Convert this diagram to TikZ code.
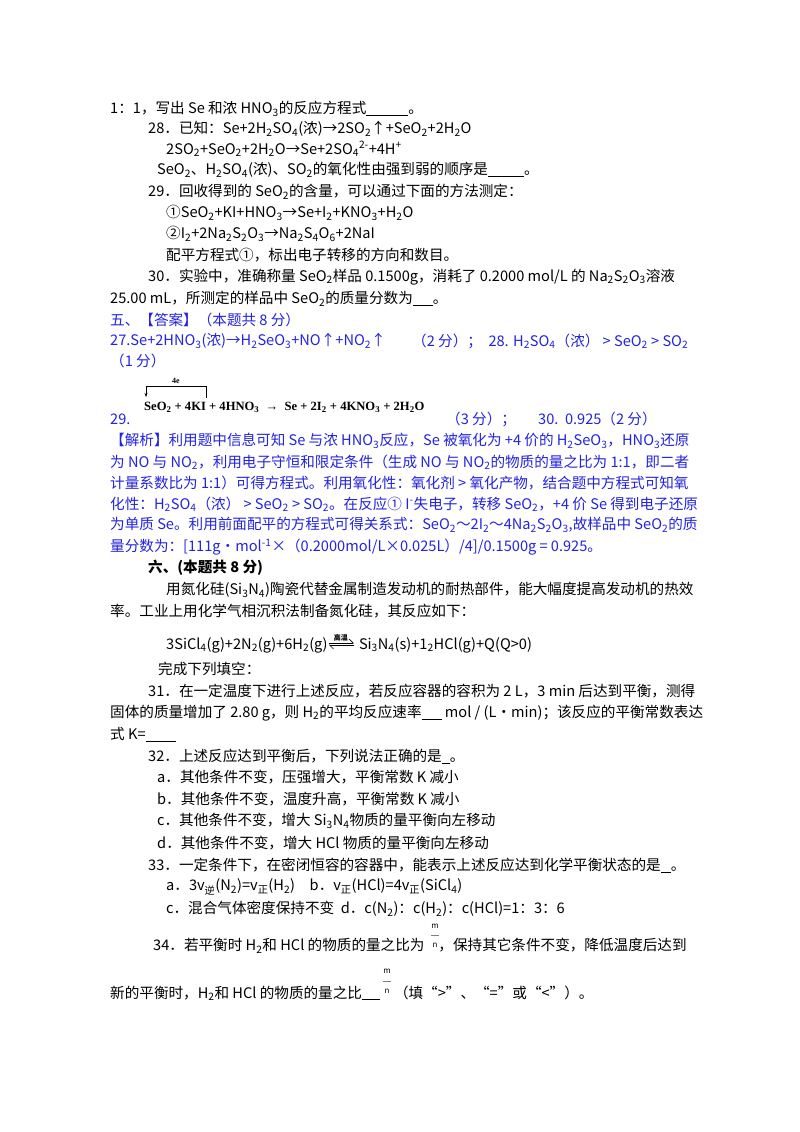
\documentclass[tikz,border=0pt]{standalone}
\usepackage{fontspec}
\setmainfont{Noto Sans CJK SC}
\newfontfamily\eqf{Liberation Serif}
\usetikzlibrary{arrows.meta}
\definecolor{ansblue}{RGB}{35,35,225}
\newcommand\sbs[1]{\textsubscript{#1}}
\newcommand\sps[1]{\textsuperscript{#1}}
\newcommand\blank[1]{\rule[-2pt]{#1}{0.6pt}}
\begin{document}
\begin{tikzpicture}[x=1pt,y=-1pt,
  t/.style={anchor=west,inner sep=0pt,font=\fontsize{14.6}{16}\selectfont},
  b/.style={t,text=ansblue}]
\useasboundingbox[fill=white] (0,0) rectangle (800,1132);
\node[t] (l1) at (110,109) {1：1，写出 Se 和浓 HNO\sbs{3}的反应方程式\blank{42pt}。};
\node[t] (l2) at (148,129) {28．已知：Se+2H\sbs{2}SO\sbs{4}(浓)→2SO\sbs{2}↑+SeO\sbs{2}+2H\sbs{2}O};
\node[t] (l3) at (166,149) {2SO\sbs{2}+SeO\sbs{2}+2H\sbs{2}O→Se+2SO\sbs{4}\sps{2-}+4H\sps{+}};
\node[t] (l4) at (157,170) {SeO\sbs{2}、H\sbs{2}SO\sbs{4}(浓)、SO\sbs{2}的氧化性由强到弱的顺序是\blank{36pt}。};
\node[t] (l5) at (148,192) {29．回收得到的 SeO\sbs{2}的含量，可以通过下面的方法测定：};
\node[t] (l6) at (166,213) {①SeO\sbs{2}+KI+HNO\sbs{3}→Se+I\sbs{2}+KNO\sbs{3}+H\sbs{2}O};
\node[t] (l7) at (166,234) {②I\sbs{2}+2Na\sbs{2}S\sbs{2}O\sbs{3}→Na\sbs{2}S\sbs{4}O\sbs{6}+2NaI};
\node[t] (l8) at (166,255) {配平方程式①，标出电子转移的方向和数目。};
\node[t] (l9) at (148,277) {30．实验中，准确称量 SeO\sbs{2}样品 0.1500g，消耗了 0.2000 mol/L 的 Na\sbs{2}S\sbs{2}O\sbs{3}溶液};
\node[t] (l10) at (110,299) {25.00 mL，所测定的样品中 SeO\sbs{2}的质量分数为\blank{20pt}。};
\node[b] (a1) at (110,320) {五、【答案】（本题共 8 分）};
\node[b] (a2) at (110,341) {27.Se+2HNO\sbs{3}(浓)→H\sbs{2}SeO\sbs{3}+NO↑+NO\sbs{2}↑};
\node[b] (a2b) at (412,341) {（2 分）；\ \ 28. H\sbs{2}SO\sbs{4}（浓）\ > SeO\sbs{2} > SO\sbs{2}};
\node[b] (a3) at (110,361) {（1 分）};
\node[b] (a4) at (110,419) {29.};
\node[anchor=west,inner sep=0pt,font=\eqf\bfseries\fontsize{12.6}{14}\selectfont] (eq) at (144,407) {SeO\sbs{2} + 4KI + 4HNO\sbs{3} \ → \ Se + 2I\sbs{2} + 4KNO\sbs{3} + 2H\sbs{2}O};
\coordinate (e1) at (146,397);
\coordinate (e2) at (146,386);
\coordinate (e3) at (206,386);
\coordinate (e4) at (206,398);
\draw[line width=0.9pt,-{Stealth[length=4pt]}] (e3) -- (e2) -- (e1);
\draw[line width=0.9pt] (e3) -- (e4);
\node[inner sep=0pt,font=\eqf\bfseries\fontsize{8}{9}\selectfont] (e4lbl) at (176,381) {4e};
\node[b] (a4b) at (446,419) {（3 分）；};
\node[b] (a4c) at (538,419) {30.\ \ 0.925（2 分）};
\node[b] (j1) at (110,441) {【解析】利用题中信息可知 Se 与浓 HNO\sbs{3}反应，Se 被氧化为 +4 价的 H\sbs{2}SeO\sbs{3}，HNO\sbs{3}还原};
\node[b] (j2) at (110,462) {为 NO 与 NO\sbs{2}，利用电子守恒和限定条件（生成 NO 与 NO\sbs{2}的物质的量之比为 1:1，即二者};
\node[b] (j3) at (110,483) {计量系数比为 1:1）可得方程式。利用氧化性：氧化剂 > 氧化产物，结合题中方程式可知氧};
\node[b] (j4) at (110,504) {化性：H\sbs{2}SO\sbs{4}（浓）\ > SeO\sbs{2} > SO\sbs{2}。在反应① I\sps{-}失电子，转移 SeO\sbs{2}，+4 价 Se 得到电子还原};
\node[b] (j5) at (110,525) {为单质 Se。利用前面配平的方程式可得关系式：SeO\sbs{2}～2I\sbs{2}～4Na\sbs{2}S\sbs{2}O\sbs{3},故样品中 SeO\sbs{2}的质};
\node[b] (j6) at (110,547) {量分数为：[111g·mol\sps{-1}×（0.2000mol/L×0.025L）/4]/0.1500g = 0.925。};
\node[t,font=\bfseries\fontsize{14.6}{16}\selectfont] (s6) at (148,568) {六、(本题共 8 分)};
\node[t] (p1) at (166,590) {用氮化硅(Si\sbs{3}N\sbs{4})陶瓷代替金属制造发动机的耐热部件，能大幅度提高发动机的热效};
\node[t] (p2) at (110,611) {率。工业上用化学气相沉积法制备氮化硅，其反应如下：};
\node[t] (r1) at (166,645) {3SiCl\sbs{4}(g)+2N\sbs{2}(g)+6H\sbs{2}(g)};
\coordinate (h1) at ([xshift=1pt,yshift=2pt]r1.east);
\coordinate (h2) at ([xshift=26pt,yshift=2pt]r1.east);
\coordinate (h3) at ([xshift=1pt,yshift=0pt]r1.east);
\coordinate (h4) at ([xshift=26pt,yshift=0pt]r1.east);
\draw[line width=0.6pt,-{Straight Barb[left,length=4pt]}] (h1) -- (h2);
\draw[line width=0.6pt,-{Straight Barb[left,length=4pt]}] (h4) -- (h3);
\node[inner sep=0pt,font=\bfseries\fontsize{7}{8}\selectfont] (gw) at ([xshift=13pt,yshift=7pt]r1.east) {高温};
\node[t] (r2) at ([xshift=31pt]r1.east) {Si\sbs{3}N\sbs{4}(s)+1\sbs{2}HCl(g)+Q(Q>0)};
\node[t] (q0) at (158,669) {完成下列填空：};
\node[t] (q1) at (148,691) {31．在一定温度下进行上述反应，若反应容器的容积为 2 L，3 min 后达到平衡，测得};
\node[t] (q2) at (110,713) {固体的质量增加了 2.80 g，则 H\sbs{2}的平均反应速率\blank{20pt} mol / (L·min)；该反应的平衡常数表达};
\node[t] (q3) at (110,734) {式 K=\blank{30pt}};
\node[t] (q4) at (148,756) {32．上述反应达到平衡后，下列说法正确的是\blank{8pt}。};
\node[t] (q5) at (157,777) {a．其他条件不变，压强增大，平衡常数 K 减小};
\node[t] (q6) at (157,799) {b．其他条件不变，温度升高，平衡常数 K 减小};
\node[t] (q7) at (157,821) {c．其他条件不变，增大 Si\sbs{3}N\sbs{4}物质的量平衡向左移动};
\node[t] (q8) at (157,843) {d．其他条件不变，增大 HCl 物质的量平衡向左移动};
\node[t] (q9) at (148,865) {33．一定条件下，在密闭恒容的容器中，能表示上述反应达到化学平衡状态的是\blank{10pt}。};
\node[t] (q10) at (166,887) {a．3v\sbs{逆}(N\sbs{2})=v\sbs{正}(H\sbs{2})\quad b．v\sbs{正}(HCl)=4v\sbs{正}(SiCl\sbs{4})};
\node[t] (q11) at (166,909) {c．混合气体密度保持不变\ \ d．c(N\sbs{2})：c(H\sbs{2})：c(HCl)=1：3：6};
\node[t] (q12) at (153,946) {34．若平衡时 H\sbs{2}和 HCl 的物质的量之比为\hspace{14pt}，保持其它条件不变，降低温度后达到};
\node[inner sep=0pt,font=\itshape\fontsize{8}{9}\selectfont] (m1) at (435,926) {m};
\draw[line width=0.4pt,gray] (431,935) -- (439,935);
\node[inner sep=0pt,font=\itshape\fontsize{8}{9}\selectfont] (n1) at (435,945) {n};
\node[t] (q13) at (110,993) {新的平衡时，H\sbs{2}和 HCl 的物质的量之比\blank{18pt}\hspace{14pt}（填“>”、“=”或“<”）。};
\node[inner sep=0pt,font=\itshape\fontsize{8}{9}\selectfont] (m2) at (387,971) {m};
\draw[line width=0.4pt,gray] (383,981) -- (391,981);
\node[inner sep=0pt,font=\itshape\fontsize{8}{9}\selectfont] (n2) at (387,991) {n};
\end{tikzpicture}
\end{document}
